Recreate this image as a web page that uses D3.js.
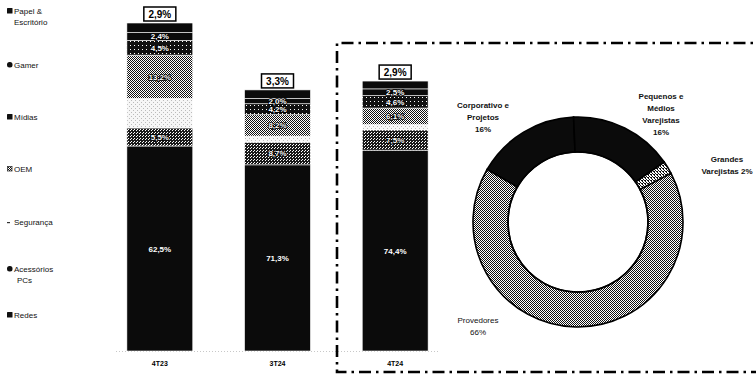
<!DOCTYPE html>
<html>
<head>
<meta charset="utf-8">
<script src="https://cdn.jsdelivr.net/npm/d3@7"></script>
<style>
  body { margin: 0; background: #fff; }
  svg { display: block; }
  text { font-family: "Liberation Sans", Arial, Helvetica, sans-serif; }
</style>
</head>
<body>
<svg id="chart" width="756" height="375"></svg>
<script>
// Receita por segmento (% do trimestre)
const trimestres = ["4T23", "3T24", "4T24"];
const redes      = [62.5, 71.3, 74.4];
const acessorios = [5.5, 8.7, 7.5];
const seguranca  = [9.0, 2.3, 2.0];
const oem        = [13.2, 8.2, 6.1];
const midias     = [4.5, 4.2, 4.6];
const gamer      = [2.4, 2.0, 2.5];
const papel      = [2.9, 3.3, 2.9];
// Receita total do trimestre, índice 4T23 = 100
const receitaIndice = [100, 79.6, 82.3];

const segmentos = ["Redes", "Acessórios PCs", "Segurança", "OEM", "Mídias", "Gamer", "Papel & Escritório"];
const legendaLinhas = [["Papel &", "Escritório"], ["Gamer"], ["Mídias"], ["OEM"], ["Segurança"], ["Acessórios", "PCs"], ["Redes"]];

// Receita 4T24 por canal (%)
const canais = ["Corporativo e Projetos", "Pequenos e Médios Varejistas", "Grandes Varejistas", "Provedores"];
const canaisPct = [16, 16, 2, 66];

const svg = d3.select("#chart");
const defs = svg.append("defs");

// halftone-like fills
function pattern(id, size, bg, dots, dotColor) {
  const p = defs.append("pattern").attr("id", id).attr("width", size).attr("height", size)
    .attr("patternUnits", "userSpaceOnUse");
  p.append("rect").attr("width", size).attr("height", size).attr("fill", bg);
  dots.forEach(([x, y]) => p.append("rect").attr("x", x).attr("y", y).attr("width", 1).attr("height", 1).attr("fill", dotColor));
}
pattern("p-checker", 2, "#fff", [[0, 0], [1, 1]], "#111");
pattern("p-acc", 3, "#1a1a1a", [[1, 1], [2, 0]], "#fff");
pattern("p-light", 4, "#f6f6f6", [[1, 2], [3, 0]], "#bbb");
pattern("p-dark", 4, "#111", [[2, 1]], "#fff");
pattern("p-grandes", 3, "#fff", [[0, 0], [1, 1], [2, 2], [1, 0]], "#111");

const fills = {
  "Redes": "#0b0b0b",
  "Acessórios PCs": "url(#p-acc)",
  "Segurança": "url(#p-light)",
  "OEM": "url(#p-checker)",
  "Mídias": "url(#p-dark)",
  "Gamer": "#0b0b0b",
  "Papel & Escritório": "#0b0b0b"
};

const series = [redes, acessorios, seguranca, oem, midias, gamer, papel];
const rows = trimestres.map((t, i) => {
  const r = { trimestre: t };
  segmentos.forEach((s, k) => r[s] = series[k][i] * receitaIndice[i] / 100);
  return r;
});
const stacked = d3.stack().keys(segmentos)(rows);

const x = d3.scaleBand().domain(trimestres).range([101, 454]).paddingInner(0.44).paddingOuter(0.22);
const y = d3.scaleLinear().domain([0, 100]).range([351, 23]);
const fmt = v => d3.format(".1f")(v).replace(".", ",") + "%";

// baseline
svg.append("line").attr("x1", 116).attr("x2", 440).attr("y1", y(0) + 0.5).attr("y2", y(0) + 0.5)
  .attr("stroke", "#c8c8c8").attr("stroke-width", 1).attr("stroke-dasharray", "1,2");

const gBars = svg.append("g");
stacked.forEach((layer, k) => {
  gBars.selectAll(null).data(layer).join("rect")
    .attr("x", d => x(d.data.trimestre))
    .attr("width", x.bandwidth())
    .attr("y", d => y(d[1]))
    .attr("height", d => y(d[0]) - y(d[1]))
    .attr("fill", fills[segmentos[k]])
    .attr("stroke", "#fff").attr("stroke-width", 0.6);
});

// values inside the bars
stacked.forEach((layer, k) => {
  const seg = segmentos[k];
  if (seg === "Papel & Escritório" || seg === "Segurança") return;
  gBars.selectAll(null).data(layer).join("text")
    .attr("x", d => x(d.data.trimestre) + x.bandwidth() / 2)
    .attr("y", d => (y(d[0]) + y(d[1])) / 2 + 3)
    .attr("text-anchor", "middle")
    .attr("font-size", 8).attr("font-weight", "bold")
    .attr("fill", "#fff")
    .attr("stroke", "#000").attr("stroke-width", seg === "Redes" ? 0 : 1.6)
    .attr("paint-order", "stroke")
    .text((d, i) => fmt(series[k][i]));
});

// top segment value in a box
const topLayer = stacked[stacked.length - 1];
const boxes = svg.append("g").selectAll("g").data(topLayer).join("g")
  .attr("transform", d => `translate(${x(d.data.trimestre) + x.bandwidth() / 2},${y(d[1]) - 9})`);
boxes.append("rect").attr("x", -16).attr("y", -7).attr("width", 32).attr("height", 14)
  .attr("fill", "#fff").attr("stroke", "#000").attr("stroke-width", 1.5);
boxes.append("text").attr("text-anchor", "middle").attr("y", 4)
  .attr("font-size", 10).attr("font-weight", "bold").text((d, i) => fmt(papel[i]));

// category axis
const xAxis = svg.append("g").attr("transform", `translate(0,${y(0) + 6})`)
  .call(d3.axisBottom(x).tickSize(0).tickPadding(4));
xAxis.select(".domain").remove();
xAxis.selectAll("text").attr("font-size", 7).attr("font-weight", "bold").attr("fill", "#000")
  .attr("font-family", "Liberation Sans, Arial, sans-serif");

// legend
const legY = [14, 68, 120, 172, 225, 272, 318];
const leg = svg.append("g");
legendaLinhas.forEach((lines, i) => {
  const g = leg.append("g").attr("transform", `translate(7,${legY[i]})`);
  const seg = segmentos[segmentos.length - 1 - i];
  if (seg === "Segurança") {
    g.append("rect").attr("x", 0).attr("y", -3).attr("width", 3).attr("height", 1.2).attr("fill", "#333");
  } else if (seg === "OEM") {
    g.append("rect").attr("x", 0.5).attr("y", -5.5).attr("width", 4.5).attr("height", 4.5)
      .attr("fill", "url(#p-checker)").attr("stroke", "#333").attr("stroke-width", 0.8);
  } else {
    g.append("rect").attr("x", 0).attr("y", -6).attr("width", 5.5).attr("height", 5.5)
      .attr("rx", seg === "Gamer" || seg === "Acessórios PCs" ? 2.5 : 0.6).attr("fill", "#111");
  }
  lines.forEach((ln, j) => {
    g.append("text").attr("x", j === 0 ? 7 : (seg === "Acessórios PCs" ? 10 : 7)).attr("y", j * 11)
      .attr("font-size", 8).attr("fill", "#111").text(ln);
  });
});

// dash-dot frame around the 4T24 breakdown
svg.append("path").attr("d", "M 770 43 H 337 V 372 H 770")
  .attr("fill", "none").attr("stroke", "#000").attr("stroke-width", 2.6)
  .attr("stroke-dasharray", "12,5,2.5,5");

// donut: receita 4T24 por canal
const cx = 578, cy = 222, R = 105, r0 = 70;
const pie = d3.pie().sort(null).startAngle(-60 * Math.PI / 180).endAngle(300 * Math.PI / 180);
const arcs = pie(canaisPct);
const arc = d3.arc().innerRadius(r0).outerRadius(R);
const donutFills = ["#0b0b0b", "#0b0b0b", "url(#p-grandes)", "url(#p-checker)"];
const gD = svg.append("g").attr("transform", `translate(${cx},${cy})`);
gD.selectAll("path").data(arcs).join("path")
  .attr("d", arc)
  .attr("fill", (d, i) => donutFills[i])
  .attr("stroke", "#000").attr("stroke-width", 1.6);
gD.append("circle").attr("r", r0).attr("fill", "none").attr("stroke", "#000").attr("stroke-width", 1.6);

// channel labels
const donutLabels = [
  { lines: ["Corporativo e", "Projetos", "16%"], x: 483, y: 108, bold: true },
  { lines: ["Pequenos e", "Médios", "Varejistas", "16%"], x: 661, y: 99, bold: true },
  { lines: ["Grandes", "Varejistas 2%"], x: 727, y: 162, bold: true },
  { lines: ["Provedores", "66%"], x: 478, y: 323, bold: false }
];
donutLabels.forEach((lb, i) => {
  const t = svg.append("text").attr("text-anchor", "middle").attr("font-size", 8)
    .attr("font-weight", lb.bold ? "bold" : "normal").attr("fill", "#111");
  const pctIdx = lb.lines.length - 1;
  lb.lines.forEach((ln, j) => {
    let s = ln;
    if (j === pctIdx && ln.endsWith("%")) {
      // percentage from the channel data
      s = ln.replace(/\d+%$/, canaisPct[i] + "%");
    }
    t.append("tspan").attr("x", lb.x).attr("y", lb.y + j * 12).text(s);
  });
});
</script>
</body>
</html>
